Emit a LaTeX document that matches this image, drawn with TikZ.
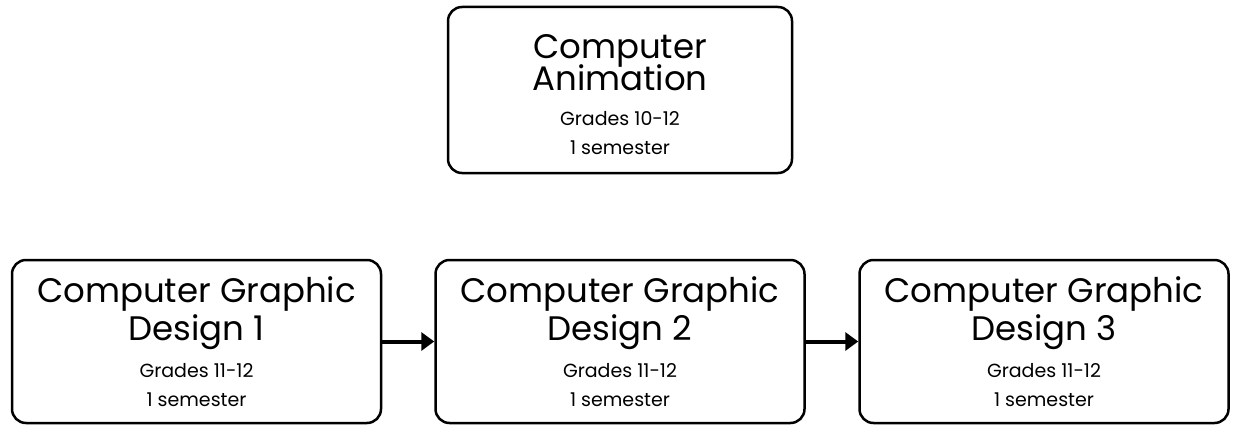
\documentclass[tikz,border=0pt]{standalone}
\usepackage{fontspec}
\setmainfont{Poppins}
\usetikzlibrary{arrows.meta}

\newcommand{\bigline}[1]{{\fontsize{34}{37}\selectfont #1}}

\begin{document}
\begin{tikzpicture}[x=1pt, y=-1pt,
      course/.style={draw, line width=2.5pt, rounded corners=14pt,
        minimum width=369pt, minimum height=163pt, align=center,
        font=\fontsize{19}{29}\selectfont},
      step arrow/.style={-{Triangle[length=13pt, width=18pt]}, line width=4pt}]
      \useasboundingbox (0,0) rectangle (1233,425);
      \node[course, minimum width=344pt, minimum height=166pt] (anim) at (620,90)
        {\rule{0pt}{33pt}\bigline{Computer}\\[-3pt]\bigline{Animation}\\[6pt]Grades 10-12\\1 semester};
      \foreach \i/\x in {1/196.5, 2/620, 3/1044} {%
        \node[course] (cgd\i) at (\x,341.5)
          {\bigline{Computer Graphic}\\[2pt]\bigline{Design \i}\\[8pt]Grades 11-12\\1 semester};
      }
      \draw[step arrow] (cgd1) -- (cgd2);
      \draw[step arrow] (cgd2) -- (cgd3);
    \end{tikzpicture}
\end{document}
